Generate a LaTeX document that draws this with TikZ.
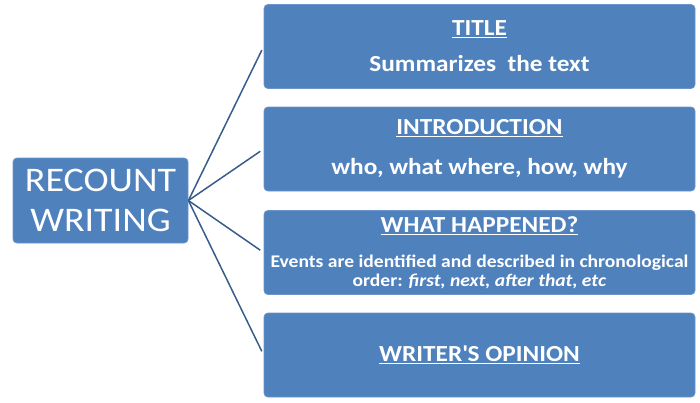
\documentclass[tikz,border=0pt]{standalone}
\usepackage{fontspec}
\setmainfont{Carlito}[FakeStretch=1.1]
\usepackage{tikz}
\usetikzlibrary{positioning}
\definecolor{boxblue}{HTML}{4F81BD}
\definecolor{boxedge}{HTML}{6B95CA}
\definecolor{linkblue}{HTML}{385D8A}

\begin{document}
\begin{tikzpicture}[x=1pt, y=-1pt,
  partbox/.style={rectangle, rounded corners=4pt, fill=boxblue, draw=boxedge,
    line width=0.8pt, text=white, align=center, inner sep=0pt,
    minimum width=431pt, minimum height=84pt},
  link/.style={draw=linkblue, line width=1.5pt, shorten >=4pt}]
  \useasboundingbox (0,0) rectangle (700,402);

  % Main topic
  \node[partbox, minimum width=175pt, minimum height=85pt,
    font=\fontsize{34.5}{40}\selectfont] (recount) at (100.5,200.5)
    {RECOUNT\\WRITING};

  % Parts of a recount
  \node[partbox, font=\bfseries\fontsize{23}{36}\selectfont] (title) at (479.5,46.5)
    {\underline{TITLE}\\Summarizes\ \ the text};
  \node[partbox, font=\bfseries\fontsize{23}{40}\selectfont] (intro) at (479.5,149)
    {\underline{INTRODUCTION}\\who, what where, how, why};
  \node[partbox, font=\bfseries\fontsize{17.8}{18.3}\selectfont] (events) at (479.5,252.5)
    {\fontsize{23}{18.3}\selectfont\underline{WHAT HAPPENED?}\\[17pt]
     Events are identified and described in chronological\\
     order: \textit{first, next, after that, etc}};
  \node[partbox, font=\bfseries\fontsize{23}{28}\selectfont] (opinion) at (479.5,355)
    {\underline{WRITER\textquotesingle S OPINION}};

  % Connectors
  \foreach \part in {title, intro, events, opinion} {
    \draw[link] (recount.east) -- (\part.west);
  }

\end{tikzpicture}
\end{document}
